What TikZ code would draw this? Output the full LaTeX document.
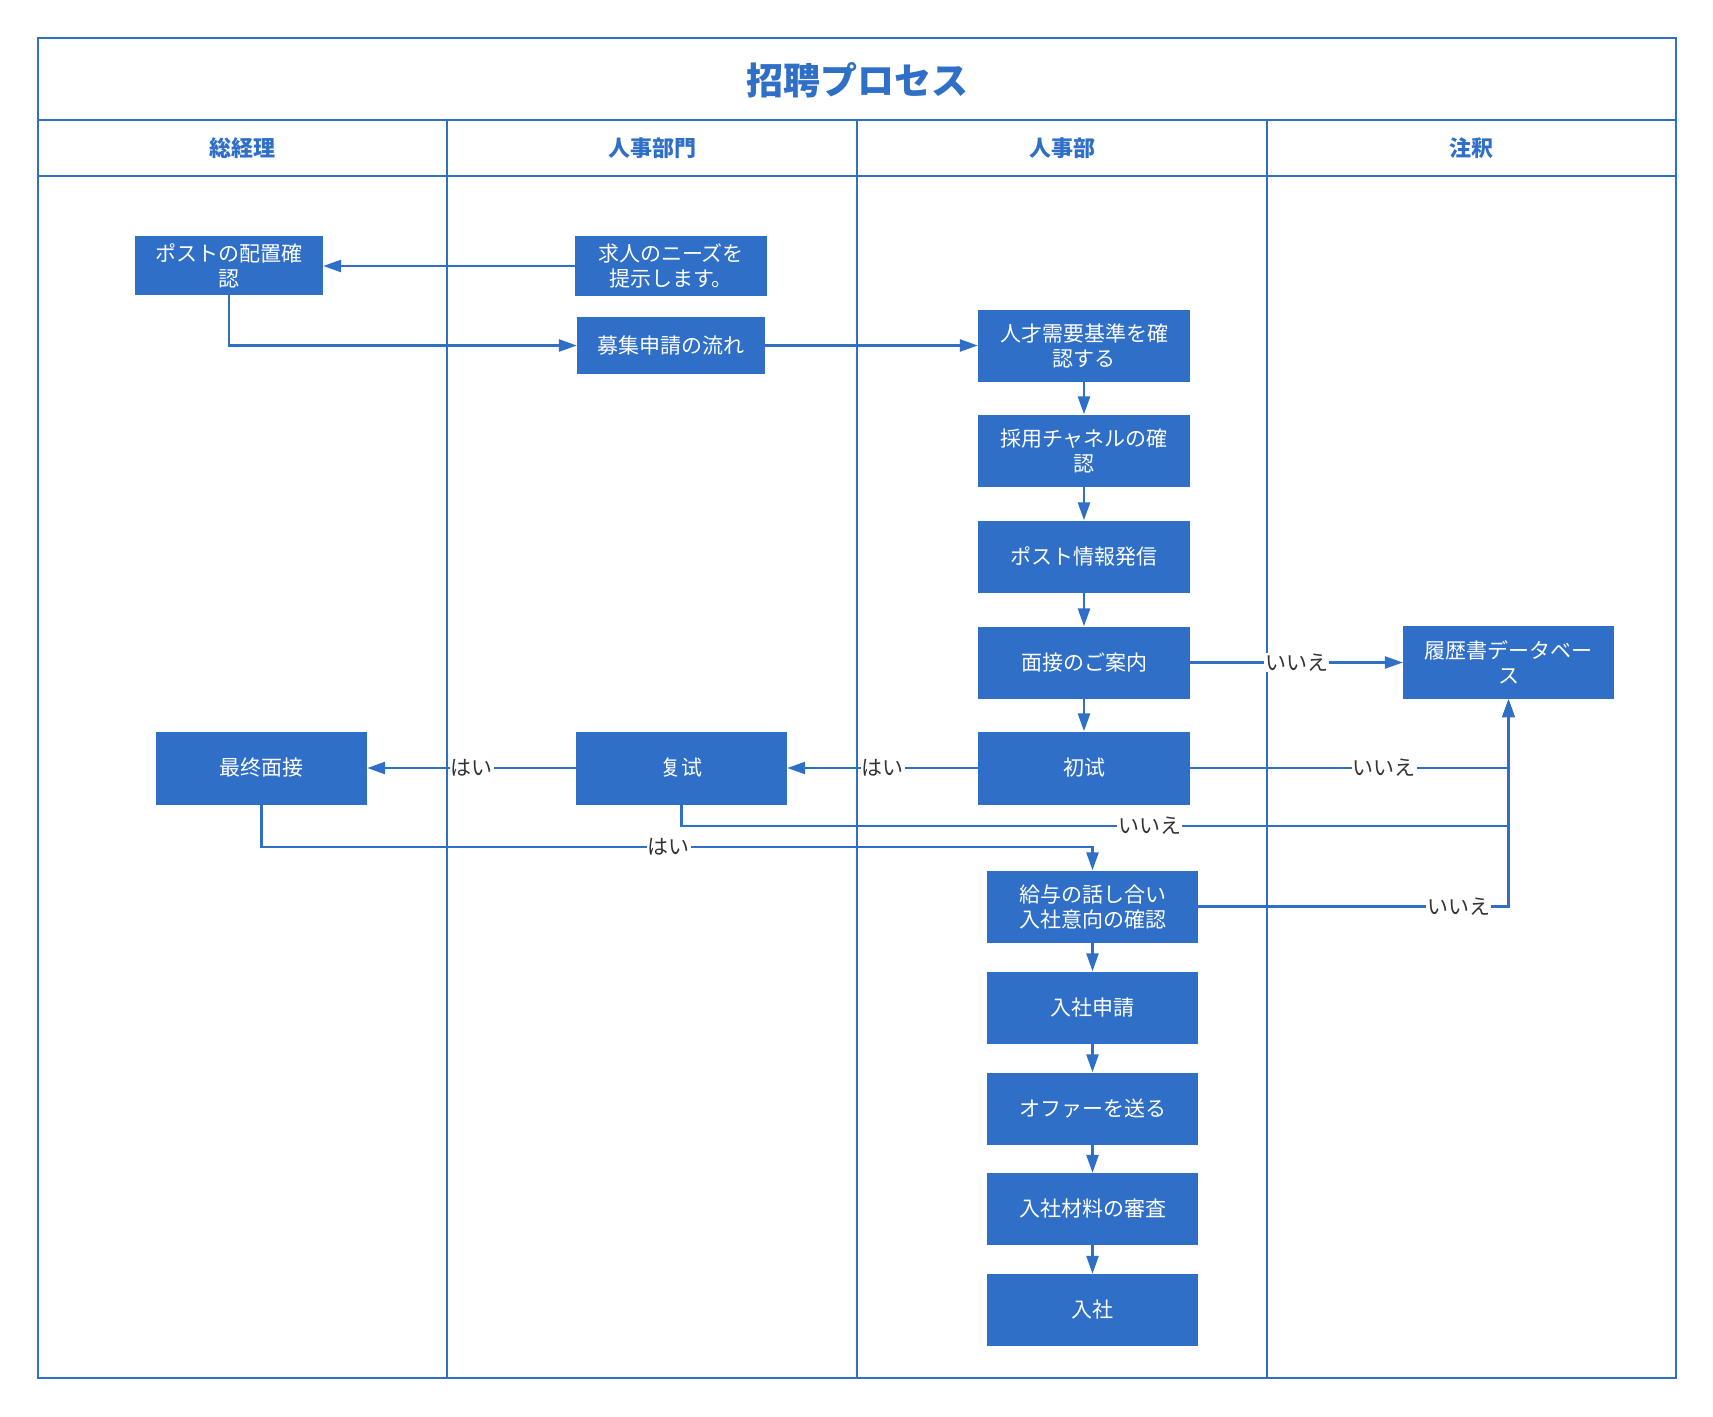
\documentclass[tikz,border=0pt]{standalone}
\usepackage{fontspec}
\setmainfont{Noto Sans CJK JP}
\usepackage{tikz}
\usetikzlibrary{arrows.meta, positioning}
\definecolor{procblue}{HTML}{2F6FC8}
\definecolor{lbltext}{HTML}{333333}

\begin{document}
\begin{tikzpicture}[
  x=1pt, y=-1pt,
  box/.style={fill=procblue, text=white, minimum width=211pt,
              minimum height=72pt, inner sep=0pt, align=center,
              font=\fontsize{21}{25}\selectfont},
  lane/.style={draw=procblue, line width=2pt},
  head/.style={text=procblue, font=\fontsize{22}{26}\selectfont\bfseries},
  lbl/.style={fill=white, text=lbltext, inner sep=1pt,
              font=\fontsize{21}{23}\selectfont},
  arr/.style={-{Triangle[length=18pt,width=12pt]}, draw=procblue,
              line width=2.6pt}
]
  \useasboundingbox (0,0) rectangle (1713,1416);
  \fill[white] (0,0) rectangle (1713,1416);

  \draw[lane] (38,38) rectangle (1676,1378);
  \draw[lane] (38,120) -- (1676,120);
  \draw[lane] (38,176) -- (1676,176);
  \draw[lane] (447,120) -- (447,1378);
  \draw[lane] (857,120) -- (857,1378);
  \draw[lane] (1267,120) -- (1267,1378);

  \node[text=procblue, font=\fontsize{37}{40}\selectfont\bfseries]
    (title) at (857,80) {招聘プロセス};
  \node[head] (gm)     at (242.5,148) {総経理};
  \node[head] (hrdept) at (652,148)   {人事部門};
  \node[head] (hr)     at (1062,148)  {人事部};
  \node[head] (note)   at (1471,148)  {注釈};

  \node[box, minimum width=188pt, minimum height=59pt] (place) at (229,265.5)
    {ポストの配置確\\認};
  \node[box, minimum width=192pt, minimum height=60pt] (need)  at (671,266)
    {求人のニーズを\\提示します。};
  \node[box, minimum width=188pt, minimum height=57pt] (flow)  at (671,345.5)
    {募集申請の流れ};
  \node[box, minimum width=212pt] (req)    at (1084,345.5) {人才需要基準を確\\認する};
  \node[box, minimum width=212pt] (chan)   at (1084,450.5) {採用チャネルの確\\認};
  \node[box, minimum width=212pt] (post)   at (1084,556.5) {ポスト情報発信};
  \node[box, minimum width=212pt] (guide)  at (1084,662.5) {面接のご案内};
  \node[box, minimum width=212pt, minimum height=73pt] (first) at (1084,768) {初试};
  \node[box, minimum height=73pt] (db)     at (1508.5,662.5) {履歴書データベー\\ス};
  \node[box, minimum height=73pt] (second) at (681.5,768) {复试};
  \node[box, minimum height=73pt] (final)  at (261.5,768) {最终面接};
  \node[box] (salary) at (1092.5,906.5) {給与の話し合い\\入社意向の確認};
  \node[box] (apply)  at (1092.5,1007.5) {入社申請};
  \node[box] (offer)  at (1092.5,1108.5) {オファーを送る};
  \node[box] (review) at (1092.5,1209)   {入社材料の審査};
  \node[box] (join)   at (1092.5,1310)   {入社};

  \coordinate (c2) at (681.5,826);
  \coordinate (c3) at (261.5,847);

  \draw[arr] (need.west) -- (need.west -| place.east);
  \draw[arr] (place.south) |- (flow.west);
  \draw[arr] (flow.east) -- (flow.east -| req.west);
  \draw[arr] (req) -- (chan);
  \draw[arr] (chan) -- (post);
  \draw[arr] (post) -- (guide);
  \draw[arr] (guide) -- node[lbl] {いいえ} (db);
  \draw[arr] (guide) -- (first);
  \draw[arr] (first) -- node[lbl] {はい} (second);
  \draw[arr] (second) -- node[lbl] {はい} (final);
  \draw[arr] (first.east) -| node[lbl, pos=0.305] {いいえ} (db.south);
  \draw[arr] (second.south) -- (c2) -| node[lbl, pos=0.283] {いいえ} (db.south);
  \draw[arr] (final.south) -- (c3) -| node[lbl, pos=0.245] {はい} (salary.north);
  \draw[arr] (salary.east) -| node[lbl, pos=0.42] {いいえ} (db.south);
  \draw[arr] (salary) -- (apply);
  \draw[arr] (apply) -- (offer);
  \draw[arr] (offer) -- (review);
  \draw[arr] (review) -- (join);
\end{tikzpicture}
\end{document}
